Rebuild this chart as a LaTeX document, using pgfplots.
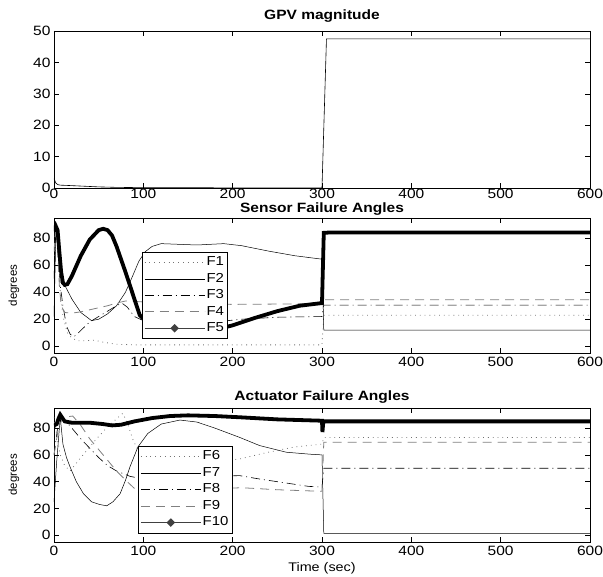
\documentclass[border=0pt]{standalone}
\usepackage{fontspec}
\setmainfont{Liberation Sans}[FakeStretch=1.15]
\newfontfamily\plainsans{Liberation Sans}
\usepackage{pgfplots}
\pgfplotsset{compat=1.18}

\pgfplotsset{
  myax/.style={
    scale only axis, width=536pt,
    xmin=0, xmax=600, xtick={0,100,...,600},
    tick align=inside, major tick length=5pt,
    tick style={black, line width=0.5pt},
    axis line style={black, line width=0.6pt},
    /pgf/number format/assume math mode=true,
    tick label style={font=\fontsize{13.5}{15}\selectfont},
    xticklabel style={yshift=-1pt},
    title style={font=\bfseries\fontsize{13.5}{15}\selectfont, at={(0.5,1)}, anchor=base},
    ylabel style={font=\plainsans\fontsize{11.5}{13}\selectfont, at={(axis description cs:-0.0746,0.5)}, anchor=center},
    xlabel style={font=\fontsize{12.5}{14}\selectfont, at={(axis description cs:0.5,0)}, anchor=center, yshift=-26pt},
    legend image code/.code={\draw[#1] (0pt,0pt) -- (60pt,0pt);},
    legend cell align=left,
    legend style={draw=black, line width=0.6pt, fill=white, inner sep=2pt, row sep=0pt,
      font=\fontsize{13}{15}\selectfont,
      nodes={inner sep=1.5pt, text height=10pt, text depth=3.5pt}},
  },
  dotg/.style={color=black!55, line width=0.8pt, dash pattern=on 0.8pt off 4pt},
  dashg/.style={color=black!50, line width=0.8pt, dash pattern=on 9pt off 6pt},
  dashdot/.style={color=black, line width=0.6pt, dash pattern=on 9pt off 4pt on 1pt off 4pt},
  solidthin/.style={color=black, line width=0.5pt},
  thickm/.style={color=black, line width=3.8pt,
    legend image code/.code={\draw[black!75, line width=0.6pt] (0pt,0pt) -- (60pt,0pt); \fill[black!75] (30pt,0pt) circle (1.6pt);}},
}

\begin{document}
\begin{tikzpicture}[x=1pt,y=1pt]
\path[use as bounding box] (0,0) rectangle (603,577);

% ---------- GPV magnitude ----------
\begin{axis}[myax, at={(54pt,389pt)}, anchor=south west, height=157pt,
  ymin=0, ymax=50, ytick={0,10,...,50},
  xticklabel style={yshift=3pt},
  title={GPV magnitude}, title style={yshift=5pt}]
\addplot[solidthin, line width=0.6pt] coordinates {
(0,3)(2,1.6)(4,1.1)(7,0.9)(12,0.85)(20,0.75)(35,0.55)(50,0.35)(70,0.2)(100,0.1)(200,0.05)(300,0.05)(305,47.5)(600,47.5)};
\end{axis}

% ---------- Sensor Failure Angles ----------
\begin{axis}[myax, at={(54pt,224pt)}, anchor=south west, height=135pt,
  ymin=-5, ymax=95, ytick={0,20,...,80},
  ylabel={degrees},
  title={Sensor Failure Angles}, title style={yshift=-0.5pt},
  legend style={at={(0.164,0.75)}, anchor=north west}]
\addplot[dotg] coordinates {
(0,60)(2,88)(4,75)(7,40)(10,22)(15,10)(20,6)(27,4)(35,4)(45,4.5)(55,3)(70,1.5)(90,1)(300,1)(302,23)(600,23)};
\addlegendentry{F1}
\addplot[solidthin] coordinates {
(0,22)(2,80)(4,85)(7,65)(10,50)(13,44)(20,35)(30,25)(42,19)(50,20)(60,24)(70,30)(80,40)(88,52)(95,63)(102,70)(110,74)(120,76)(140,75.5)(160,75)(190,76)(210,74.5)(240,70.5)(270,67)(300,64.5)(302,12)(600,12)};
\addlegendentry{F2}
\addplot[dashdot] coordinates {
(0,50)(2,85)(4,80)(7,45)(10,30)(14,15)(18,9)(22,7)(26,9)(32,13)(40,18)(50,22)(60,26)(70,30)(76,32)(82,29)(90,22)(100,19)(120,17)(150,17)(180,18)(210,20)(250,21.5)(300,22)(302,30.5)(600,30.5)};
\addlegendentry{F3}
\addplot[dashg] coordinates {
(0,70)(2,88)(4,70)(6,45)(8,30)(12,25)(20,24.5)(30,25.5)(40,27)(50,28.5)(60,30)(70,32)(80,33.5)(95,33)(120,32)(200,31)(300,31.5)(302,34.5)(600,34.5)};
\addlegendentry{F4}
\addplot[thickm] coordinates {
(0,85)(2,89)(4,86)(6,70)(8,55)(10,47)(12,45.5)(15,46)(20,52)(30,67)(40,79)(50,86)(55,87)(60,86)(65,82)(70,74)(80,55)(90,35)(96,23)(110,14)(130,11)(150,10.5)(170,11)(185,13)(200,15.5)(225,21)(250,26)(275,30)(300,32)(302,84)(310,84.3)(600,84.3)};
\addlegendentry{F5}
\end{axis}

% ---------- Actuator Failure Angles ----------
\begin{axis}[myax, at={(54pt,35pt)}, anchor=south west, height=134pt,
  ymin=-5, ymax=95, ytick={0,20,...,80},
  ylabel={degrees}, xlabel={Time (sec)},
  title={Actuator Failure Angles}, title style={yshift=1.5pt},
  legend style={at={(0.157,0.716)}, anchor=north west}]
\addplot[dotg] coordinates {
(0,88)(3,75)(7,60)(12,52)(18,48)(30,58)(45,70)(60,81)(77,91)(82,84)(88,72)(95,62)(110,54)(140,52)(170,54)(208,57)(240,62)(270,66)(300,68)(302,73)(600,73)};
\addlegendentry{F6}
\addplot[solidthin] coordinates {
(0,25)(3,55)(7,88)(10,68)(14,58)(18,51)(25,40)(33,31)(42,25)(51,23)(59,22)(66,25)(74,31)(80,41)(85,51)(94,66)(105,76)(120,83)(141,86)(160,84.5)(180,80)(208,73)(230,67)(260,62)(287,60.5)(300,60)(302,1.5)(600,1.5)};
\addlegendentry{F7}
\addplot[dashdot] coordinates {
(0,60)(4,80)(8,88)(12,86)(20,80)(30,72)(40,65)(50,58)(60,52)(70,48)(85,44)(100,42)(150,44)(208,44.5)(230,42)(260,39)(285,36.5)(300,36)(302,50)(600,50)};
\addlegendentry{F8}
\addplot[dashg] coordinates {
(0,60)(5,80)(10,88)(21,89)(30,82)(40,72)(55,60)(70,48)(82,40)(90,35)(100,33.5)(150,34)(210,35.5)(250,34)(300,32.8)(302,69.5)(600,69.5)};
\addlegendentry{F9}
\addplot[thickm] coordinates {
(0,82)(3,83)(5,87)(7,90)(9,88)(12,85)(20,84)(40,84)(55,83)(65,82)(75,82.5)(90,85)(110,87.5)(130,89)(150,89.5)(180,89)(210,88)(250,86.5)(300,85.5)(300.5,77)(301.5,85)(600,85)};
\addlegendentry{F10}
\end{axis}
\end{tikzpicture}
\end{document}
